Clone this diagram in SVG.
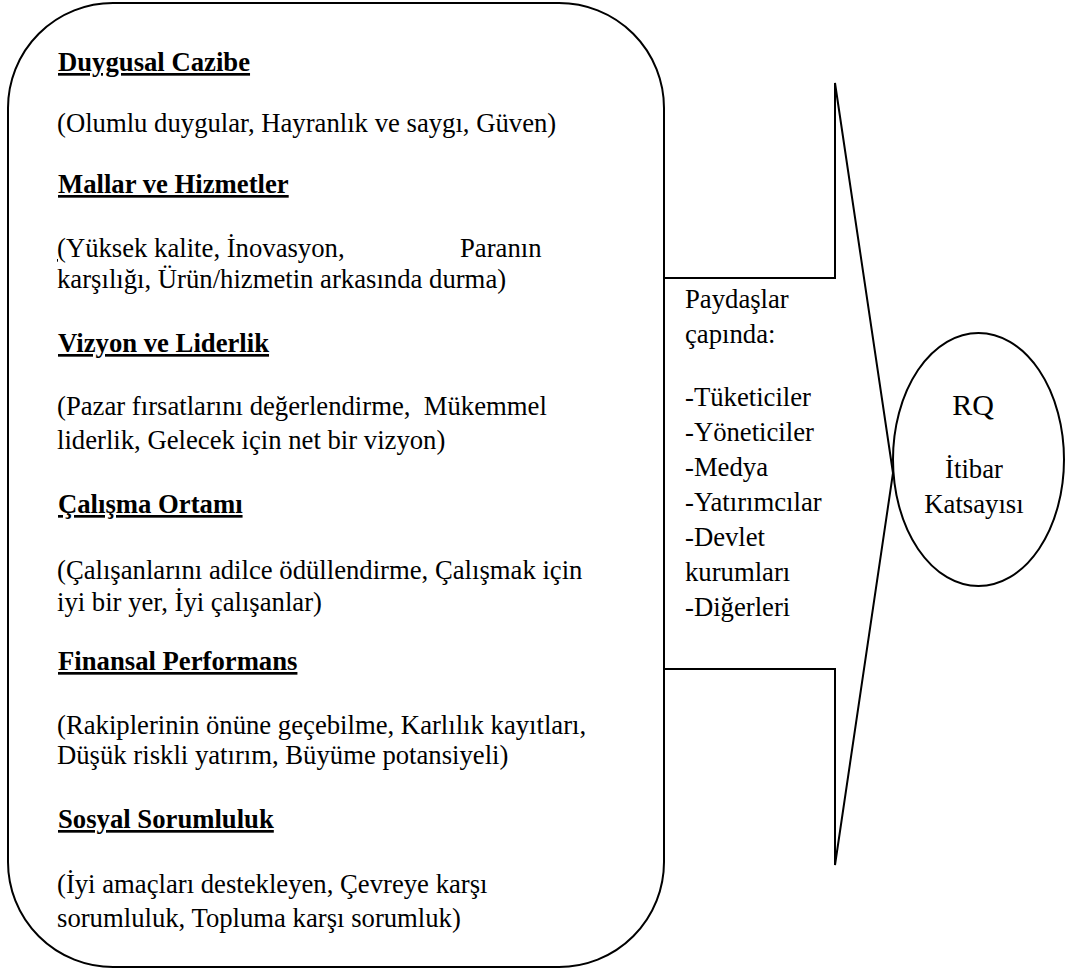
<svg xmlns="http://www.w3.org/2000/svg" width="1068" height="969" viewBox="0 0 1068 969">
  <style>
    .shape { fill: none; stroke: #000; stroke-width: 2; stroke-linejoin: miter; }
    .txt { font-family: "Liberation Serif", serif; font-size: 26.7px; fill: #000; }
    .head { font-weight: bold; text-decoration: underline; }
    .ul { text-decoration: underline; }
    .mid { text-anchor: middle; }
  </style>
  <rect width="1068" height="969" fill="#fff"/>

  <!-- Reputation dimensions panel -->
  <g id="dimensions">
    <rect class="shape" x="8" y="3" width="656" height="964" rx="105" ry="105"/>
    <text class="txt head" x="58" y="71">Duygusal Cazibe</text>
    <text class="txt" x="57" y="132">(Olumlu duygular, Hayranlık ve saygı, Güven)</text>
    <text class="txt head" x="58" y="193">Mallar ve Hizmetler</text>
    <text class="txt" x="57" y="257"><tspan class="ul">(</tspan>Yüksek kalite, İnovasyon,</text>
    <text class="txt" x="460" y="257">Paranın</text>
    <text class="txt" x="57" y="288">karşılığı, Ürün/hizmetin arkasında durma)</text>
    <text class="txt head" x="58" y="352">Vizyon ve Liderlik</text>
    <text class="txt" x="57" y="415" xml:space="preserve">(Pazar fırsatlarını değerlendirme,  Mükemmel</text>
    <text class="txt" x="57" y="449">liderlik, Gelecek için net bir vizyon)</text>
    <text class="txt head" x="58" y="513">Çalışma Ortamı</text>
    <text class="txt" x="57" y="579">(Çalışanlarını adilce ödüllendirme, Çalışmak için</text>
    <text class="txt" x="57" y="611">iyi bir yer, İyi çalışanlar)</text>
    <text class="txt head" x="58" y="670">Finansal Performans</text>
    <text class="txt" x="57" y="734">(Rakiplerinin önüne geçebilme, Karlılık kayıtları,</text>
    <text class="txt" x="57" y="764">Düşük riskli yatırım, Büyüme potansiyeli)</text>
    <text class="txt head" x="58" y="828">Sosyal Sorumluluk</text>
    <text class="txt" x="57" y="893">(İyi amaçları destekleyen, Çevreye karşı</text>
    <text class="txt" x="57" y="927">sorumluluk, Topluma karşı sorumluk)</text>
  </g>

  <!-- Stakeholder block arrow -->
  <g id="stakeholders">
    <path class="shape" d="M664 278 H835 V83 L893 473 L835 865 V669 H664"/>
    <text class="txt" x="685" y="308">Paydaşlar</text>
    <text class="txt" x="685" y="343">çapında:</text>
    <text class="txt" x="685" y="406">-Tüketiciler</text>
    <text class="txt" x="685" y="441">-Yöneticiler</text>
    <text class="txt" x="685" y="476">-Medya</text>
    <text class="txt" x="685" y="511">-Yatırımcılar</text>
    <text class="txt" x="685" y="546">-Devlet</text>
    <text class="txt" x="685" y="581">kurumları</text>
    <text class="txt" x="685" y="616">-Diğerleri</text>
  </g>

  <!-- Reputation quotient -->
  <g id="rq">
    <ellipse class="shape" cx="978.5" cy="459.5" rx="85.5" ry="126.5"/>
    <text class="txt mid" x="973" y="415" style="font-size:30px">RQ</text>
    <text class="txt mid" x="974" y="478">İtibar</text>
    <text class="txt mid" x="974" y="513">Katsayısı</text>
  </g>
</svg>
